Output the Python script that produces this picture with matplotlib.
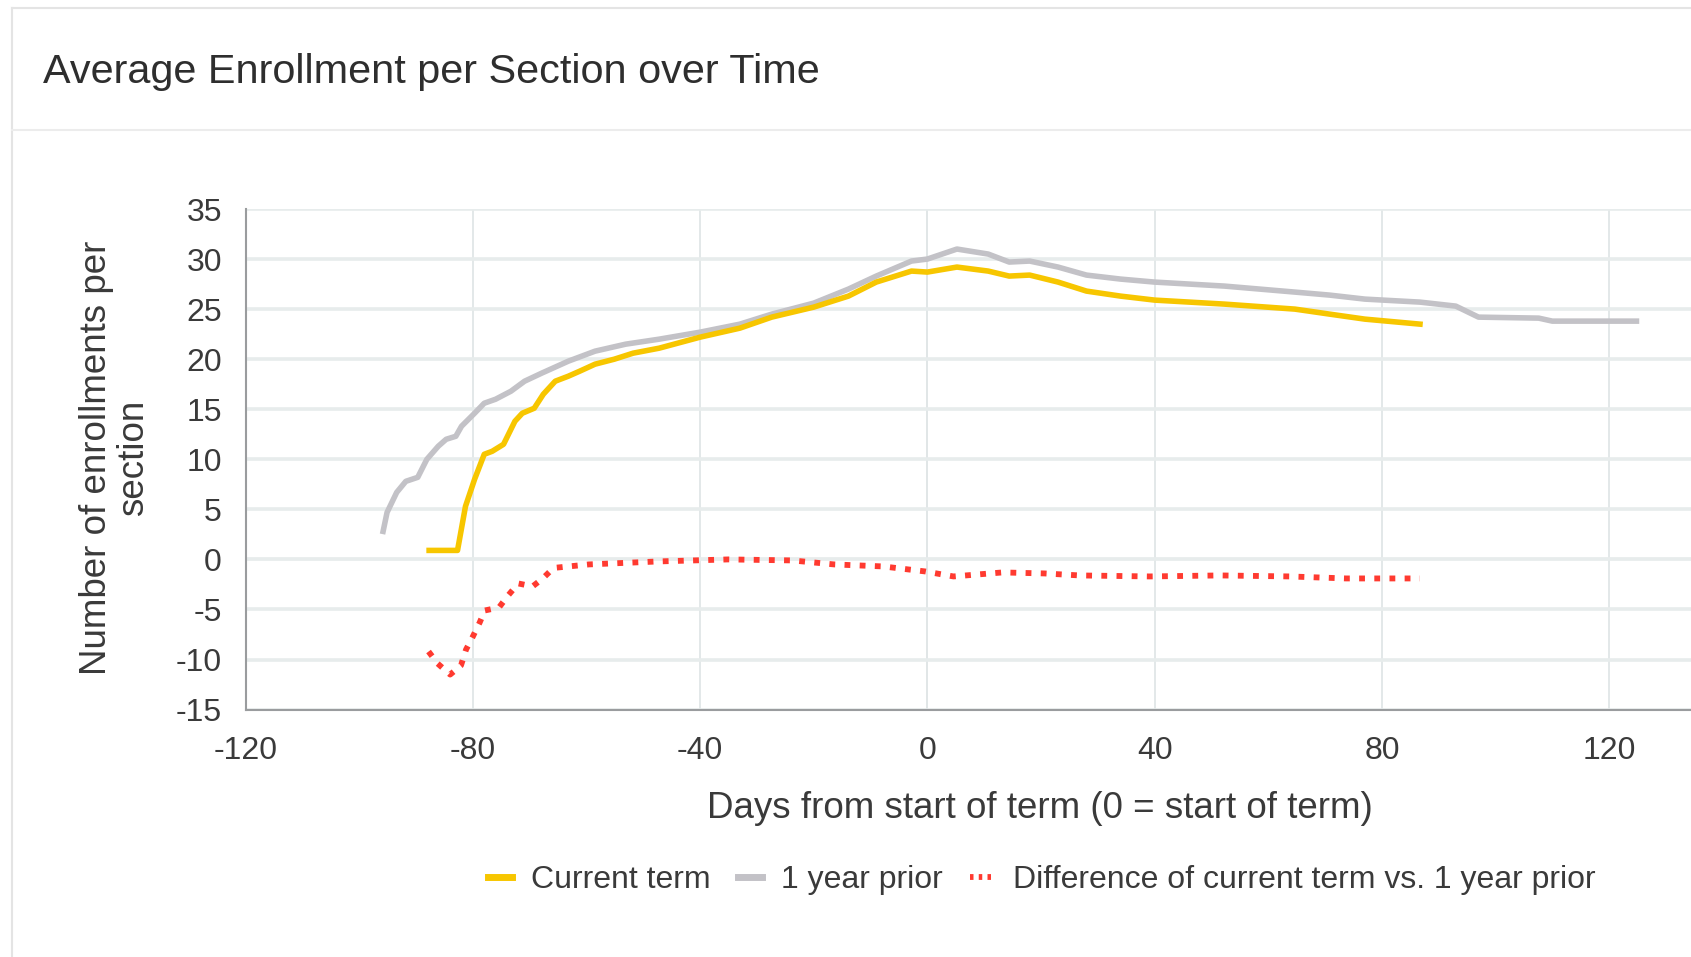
import matplotlib
matplotlib.use("Agg")
import matplotlib.pyplot as plt
from matplotlib.lines import Line2D

plt.rcParams['font.family'] = ['Liberation Sans', 'DejaVu Sans']

# values
days_current = [-87.7, -82.7, -81.3, -79.7, -78, -76.6, -74.6, -72.6, -71.3, -69.2, -67.6, -65.5,
                -63.2, -61.2, -58.5, -55.1, -51.8, -47.2, -40, -33, -27.4, -20, -13.9, -9, -2.8,
                0, 5.2, 10.7, 14.4, 18, 23, 28, 34, 40, 52.3, 64.7, 70.8, 77, 86.7]
current_term = [0.9, 0.9, 5.3, 8, 10.5, 10.8, 11.5, 13.8, 14.6, 15.1, 16.5, 17.8,
                18.3, 18.8, 19.5, 20, 20.6, 21.1, 22.2, 23.1, 24.2, 25.2, 26.3, 27.7, 28.8,
                28.7, 29.2, 28.8, 28.3, 28.4, 27.7, 26.8, 26.3, 25.9, 25.5, 25, 24.5, 24, 23.5]

days_prior = [-95.8, -95.1, -93.4, -91.8, -89.7, -88.1, -86.1, -84.7, -83, -82, -79.7, -78,
              -76, -73.3, -70.9, -67.9, -63.2, -58.5, -53.1, -47.2, -40, -33, -27.4, -20,
              -13.9, -9, -2.8, 0, 5.2, 10.7, 14.4, 18, 23, 28, 34, 40, 52.3, 64.7, 70.8, 77,
              86.7, 93, 97, 107.6, 110, 124.8]
year_prior = [2.8, 4.7, 6.7, 7.8, 8.2, 10, 11.3, 12, 12.3, 13.3, 14.6, 15.6,
              16, 16.8, 17.8, 18.6, 19.8, 20.8, 21.5, 22, 22.7, 23.5, 24.5, 25.6,
              27, 28.3, 29.8, 30, 31, 30.5, 29.7, 29.8, 29.2, 28.4, 28, 27.7, 27.3, 26.7, 26.4, 26,
              25.7, 25.3, 24.2, 24.1, 23.8, 23.8]

days_diff = [-87.8, -86.2, -84, -82.1, -81.2, -80, -78.8, -77.9, -75.4, -73.8, -72, -69.5,
             -67.7, -65.8, -59.6, -47.3, -35, -23.8, -16.4, -7.8, -0.4, 4.6, 13.2, 20.6,
             26.8, 39.1, 51.5, 63.8, 73.7, 86.7]
difference = [-9.2, -10.4, -11.5, -10.6, -9, -7.7, -6.3, -5.1, -4.8, -3.6, -2.4, -2.7,
              -1.9, -0.85, -0.5, -0.2, 0, -0.1, -0.5, -0.7, -1.2, -1.7, -1.3, -1.4,
              -1.6, -1.7, -1.6, -1.7, -1.9, -1.9]

x_ticks = [-120, -80, -40, 0, 40, 80, 120]
y_ticks = [-15, -10, -5, 0, 5, 10, 15, 20, 25, 30, 35]

YELLOW = "#f7c600"
GRAY = "#c3c2c7"
RED = "#ff3a30"
TXT = "#3a3a3a"

W, H = 1691, 957
fig = plt.figure(figsize=(W / 100, H / 100), dpi=100)

# card frame
fig.add_artist(Line2D([12 / W, 12 / W], [0, 1 - 8 / H], color="#e4e4e4", lw=1.5))
fig.add_artist(Line2D([12 / W, 1], [1 - 8 / H, 1 - 8 / H], color="#e4e4e4", lw=1.5))
fig.add_artist(Line2D([12 / W, 1], [1 - 130 / H, 1 - 130 / H], color="#ececec", lw=1.5))
fig.text(43 / W, 1 - 72 / H, "Average Enrollment per Section over Time",
         fontsize=29.8, color="#2e2e2e", ha="left", va="center")

ax_left, ax_bottom = 245.6 / W, 1 - 709.6 / H
ax_top = 1 - 209 / H
ax = fig.add_axes([ax_left, ax_bottom, 1 - ax_left, ax_top - ax_bottom])

ax.plot(days_prior, year_prior, color=GRAY, lw=4, solid_joinstyle="round", zorder=3)
ax.plot(days_current, current_term, color=YELLOW, lw=4, solid_joinstyle="round", zorder=4)
ax.plot(days_diff, difference, color=RED, lw=4.2, dashes=(1, 1.6), zorder=4)

ax.set_xlim(-120, 134.4)
ax.set_ylim(-15, 35)
ax.set_xticks(x_ticks)
ax.set_yticks(y_ticks)
ax.set_xticklabels([str(t) for t in x_ticks])
ax.set_yticklabels([str(t) for t in y_ticks])
ax.tick_params(length=0, labelsize=23, labelcolor=TXT)
ax.tick_params(axis="y", pad=17)
ax.tick_params(axis="x", pad=19)

ax.grid(axis="y", color="#e7ecec", lw=2.6, zorder=0)
ax.grid(axis="x", color="#e3e8e9", lw=1.4, zorder=0)
ax.axhline(0, color="#b9bdbe", lw=1.6, zorder=1)
ax.axvline(0, color="#b9bdbe", lw=1.4, zorder=1)

for s in ["top", "right"]:
    ax.spines[s].set_visible(False)
for s in ["left", "bottom"]:
    ax.spines[s].set_color("#9a9c9e")
    ax.spines[s].set_linewidth(1.5)

ax.set_xlabel("Days from start of term (0 = start of term)", fontsize=26.5, color=TXT)
ax.xaxis.set_label_coords((1040 - 245.6) / (W - 245.6), (709.6 - 808) / (709.6 - 209))
ax.xaxis.label.set_va("center")
ax.set_ylabel("Number of enrollments per\nsection", fontsize=26.5, color=TXT,
              multialignment="center", linespacing=1.05)
ax.yaxis.set_label_coords((115 - 245.6) / (W - 245.6), (709.6 - 458) / (709.6 - 209))
ax.yaxis.label.set_va("center")

handles = [
    Line2D([], [], color=YELLOW, lw=5),
    Line2D([], [], color=GRAY, lw=5),
    Line2D([], [], color=RED, lw=4.2, dashes=(0.6, 0.9)),
]
labels = ["Current term", "1 year prior", "Difference of current term vs. 1 year prior"]
fig.legend(handles, labels, loc="center", bbox_to_anchor=(1042 / W, 1 - 880 / H),
           ncol=3, frameon=False, fontsize=23, labelcolor=TXT,
           handlelength=0.75, handletextpad=0.6, columnspacing=0.85)

fig.savefig("out.png", dpi=100, facecolor="white")
